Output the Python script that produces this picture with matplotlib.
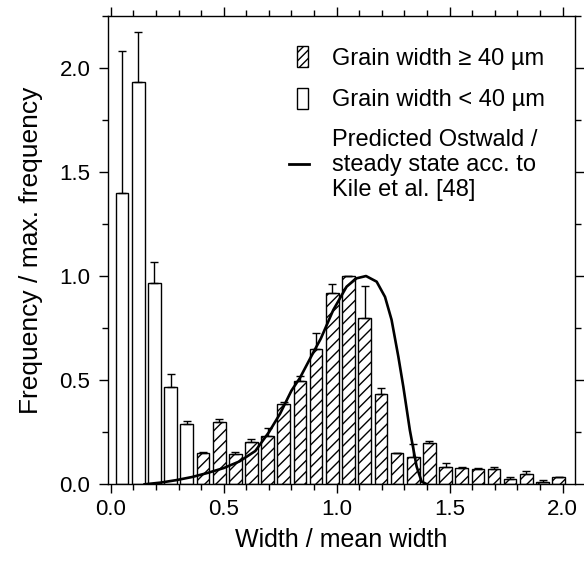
import matplotlib
matplotlib.use("Agg")
import matplotlib.pyplot as plt
import numpy as np
from matplotlib.patches import Rectangle
from matplotlib.lines import Line2D
from matplotlib.legend_handler import HandlerPatch
from matplotlib.ticker import MultipleLocator

plt.rcParams["font.family"] = ["Liberation Sans", "DejaVu Sans"]
plt.rcParams["hatch.linewidth"] = 1.0

# bins below 40 um (open bars)
small_x = [0.050, 0.122, 0.193, 0.265, 0.336]
small_h = [1.40, 1.93, 0.965, 0.468, 0.288]
small_top = [2.08, 2.17, 1.065, 0.530, 0.306]

# bins at or above 40 um (hatched bars)
large_x = [0.408, 0.480, 0.551, 0.623, 0.694, 0.766, 0.838, 0.909, 0.981,
           1.052, 1.124, 1.196, 1.267, 1.339, 1.410, 1.482, 1.554, 1.625,
           1.697, 1.768, 1.840, 1.912, 1.983]
large_h = [0.149, 0.300, 0.146, 0.205, 0.230, 0.387, 0.496, 0.651, 0.917,
           1.000, 0.797, 0.434, 0.149, 0.133, 0.197, 0.085, 0.077, 0.074,
           0.074, 0.026, 0.050, 0.013, 0.037]
large_top = [0.157, 0.315, 0.154, 0.216, 0.268, 0.395, 0.522, 0.726, 0.960,
             1.000, 0.954, 0.460, 0.152, 0.194, 0.210, 0.100, 0.081, 0.080,
             0.082, 0.037, 0.062, 0.021, 0.037]

# predicted Ostwald / steady state curve
curve_x = [0.15, 0.22, 0.29, 0.36, 0.43, 0.50, 0.57, 0.64, 0.70, 0.75,
           0.80, 0.837, 0.90, 0.93, 0.985, 1.044, 1.088, 1.13, 1.177, 1.214,
           1.243, 1.273, 1.295, 1.324, 1.354, 1.376, 1.40]
curve_y = [0.0, 0.008, 0.02, 0.035, 0.055, 0.078, 0.11, 0.16, 0.25, 0.34,
           0.45, 0.51, 0.64, 0.70, 0.837, 0.949, 0.989, 1.0, 0.973, 0.90,
           0.79, 0.613, 0.469, 0.26, 0.085, 0.013, 0.0]

BAR_W = 0.056


def narrow_box(legend, orig_handle, xdescent, ydescent, width, height, fontsize):
    w, h = 7.5, 15.0
    return Rectangle((-xdescent + width - w - 1.0, -ydescent + height / 2 - h / 2), w, h)


fig = plt.figure(figsize=(5.84, 5.63), dpi=100)
ax = fig.add_axes([107.7 / 584, 1 - 484.3 / 563, (575 - 107.7) / 584, (484.3 - 15.7) / 563])

ax.bar(small_x, small_h, BAR_W, facecolor="white", edgecolor="black", linewidth=1.0, zorder=2)
ax.bar(large_x, large_h, BAR_W, facecolor="white", edgecolor="black", linewidth=1.0,
       hatch="///", zorder=2)

small_err = np.array(small_top) - np.array(small_h)
large_err = np.array(large_top) - np.array(large_h)
ax.errorbar(small_x, small_h, yerr=[np.zeros(len(small_x)), small_err], fmt="none",
            ecolor="black", elinewidth=1.0, capsize=2.6, capthick=1.0, zorder=3)
ax.errorbar(large_x, large_h, yerr=[np.zeros(len(large_x)), large_err], fmt="none",
            ecolor="black", elinewidth=1.0, capsize=2.6, capthick=1.0, zorder=3)

ax.plot(curve_x, curve_y, color="black", linewidth=1.9, zorder=4)

ax.set_xlim(-0.0135, 2.055)
ax.set_ylim(0, 2.25)
ax.xaxis.set_major_locator(MultipleLocator(0.5))
ax.xaxis.set_minor_locator(MultipleLocator(0.1))
ax.yaxis.set_major_locator(MultipleLocator(0.5))
ax.yaxis.set_minor_locator(MultipleLocator(0.25))
ax.set_xticks([0.0, 0.5, 1.0, 1.5, 2.0])
ax.set_xticklabels(["0.0", "0.5", "1.0", "1.5", "2.0"])
ax.set_yticks([0.0, 0.5, 1.0, 1.5, 2.0])
ax.set_yticklabels(["0.0", "0.5", "1.0", "1.5", "2.0"])

ax.tick_params(which="both", direction="out", top=True, right=True, width=1.0,
               labelsize=16, colors="black")
ax.tick_params(which="major", length=6.5)
ax.tick_params(which="minor", length=4.0)
ax.tick_params(axis="x", which="major", pad=4)
ax.tick_params(axis="y", which="major", pad=6)
for sp in ax.spines.values():
    sp.set_linewidth(1.0)

ax.set_xlabel("Width / mean width", fontsize=18, labelpad=6)
ax.set_ylabel("Frequency / max. frequency", fontsize=19, labelpad=12)

h_large = Rectangle((0, 0), 1, 1, facecolor="white", edgecolor="black", linewidth=1.0, hatch="////")
h_small = Rectangle((0, 0), 1, 1, facecolor="white", edgecolor="black", linewidth=1.0)
h_line = Line2D([0], [0], color="black", linewidth=2.0)
leg = ax.legend([h_large, h_small, h_line],
                ["Grain width \u2265 40 \u00b5m", "Grain width < 40 \u00b5m",
                 "Predicted Ostwald /\nsteady state acc. to\nKile et al. [48]"],
                handler_map={Rectangle: HandlerPatch(patch_func=narrow_box)},
                loc="upper left", bbox_to_anchor=(289 / 584, 1 - 46 / 563),
                bbox_transform=fig.transFigure, frameon=False, fontsize=17,
                borderpad=0, borderaxespad=0, handlelength=0.85, handleheight=1.0,
                handletextpad=0.95, labelspacing=0.76)
for t in leg.get_texts():
    t.set_linespacing(1.16)

fig.savefig("out.png", dpi=100)
